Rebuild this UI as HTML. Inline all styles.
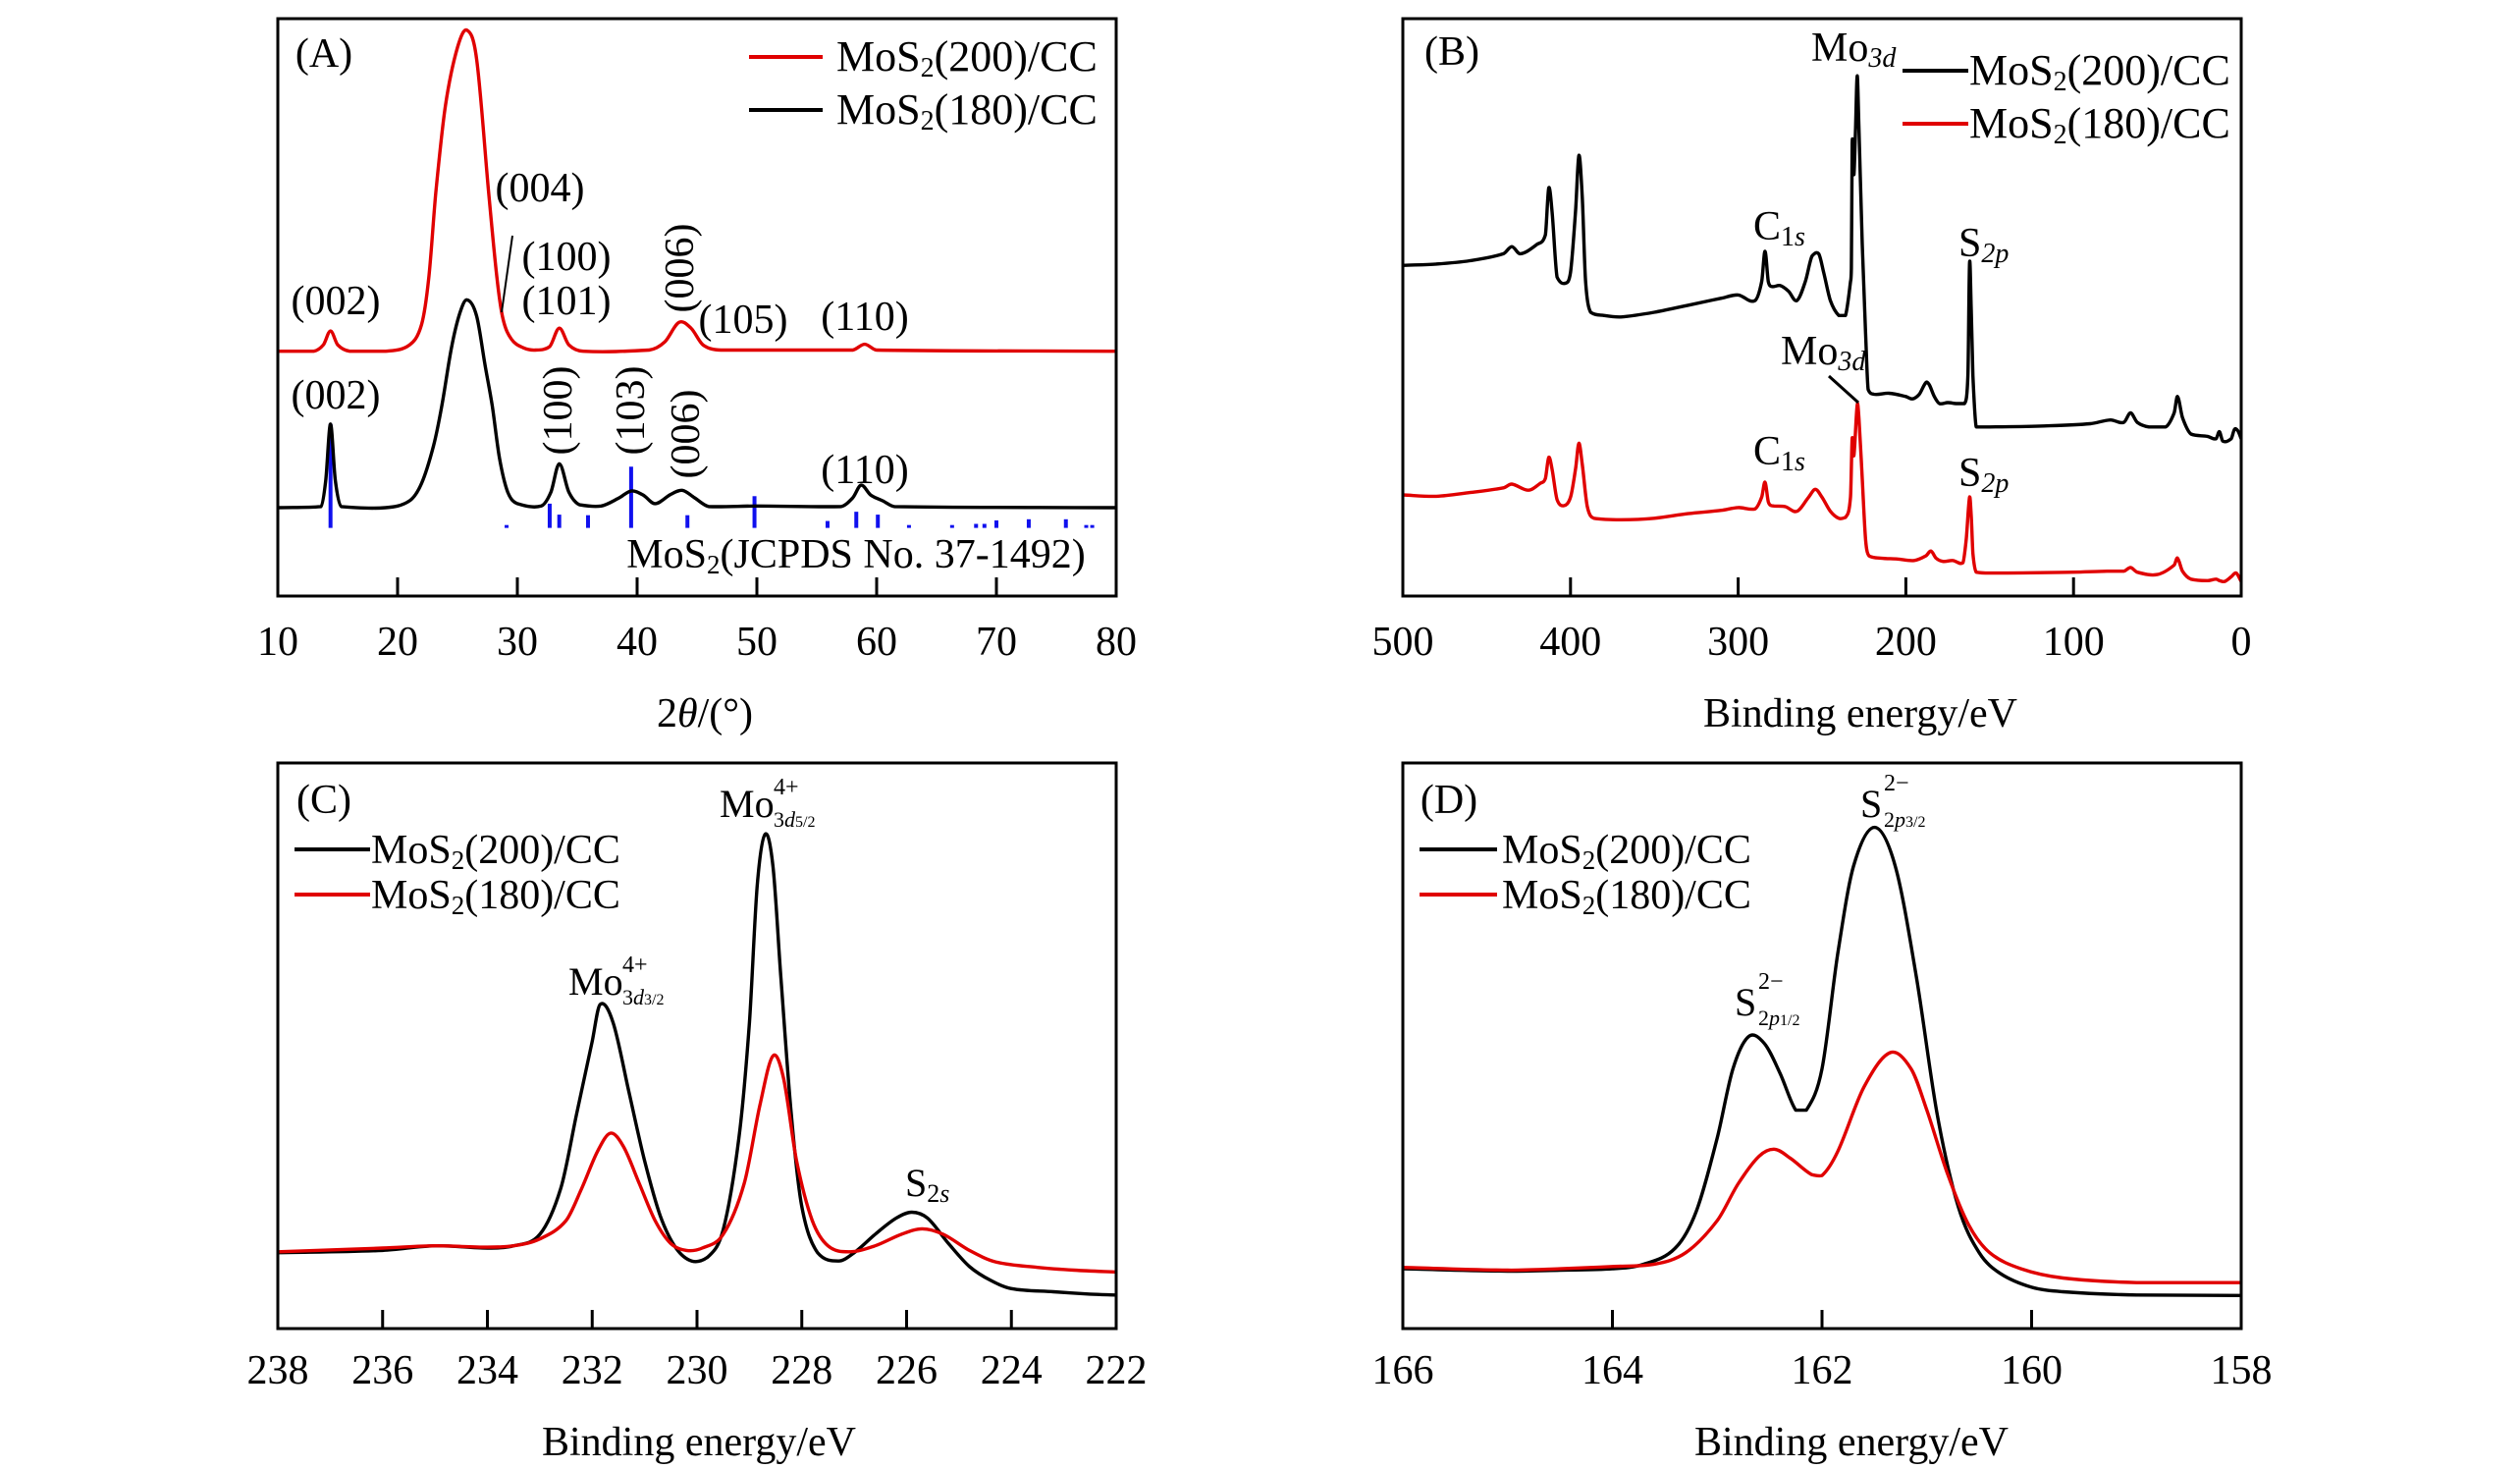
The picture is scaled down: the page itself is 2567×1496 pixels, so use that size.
<!DOCTYPE html>
<html><head><meta charset="utf-8"><title>MoS2 XRD and XPS</title>
<style>
html,body{margin:0;padding:0;background:#fff;}
svg{display:block;}
text{font-family:"Liberation Serif",serif;fill:#000;}
</style></head>
<body>
<svg id="fig" width="2567" height="1496" viewBox="0 0 2567 1496" xmlns="http://www.w3.org/2000/svg">
<defs>
<clipPath id="clipA"><rect x="283" y="19" width="854" height="588"/></clipPath>
<clipPath id="clipB"><rect x="1429" y="19" width="854" height="588"/></clipPath>
<clipPath id="clipC"><rect x="283" y="777" width="854" height="576"/></clipPath>
<clipPath id="clipD"><rect x="1429" y="777" width="854" height="576"/></clipPath>
</defs>

<!-- Panel A -->
<g>
<g id="gA" clip-path="url(#clipA)"></g>
<rect x="283" y="19" width="854" height="588" fill="none" stroke="#000" stroke-width="3"/>
<g id="tA"></g>
<text x="330" y="68" font-size="42" text-anchor="middle">(A)</text>
<line x1="763" y1="58" x2="838" y2="58" stroke="#e00000" stroke-width="4"/>
<text x="852" y="72" font-size="44">MoS<tspan font-size="28" dy="6">2</tspan><tspan dy="-6">(200)/CC</tspan></text>
<line x1="763" y1="112" x2="838" y2="112" stroke="#000" stroke-width="4"/>
<text x="852" y="126" font-size="44">MoS<tspan font-size="28" dy="6">2</tspan><tspan dy="-6">(180)/CC</tspan></text>
<g font-size="42" text-anchor="middle">
<text x="342" y="320">(002)</text>
<text x="550" y="205">(004)</text>
<line x1="522" y1="240" x2="511" y2="318" stroke="#000" stroke-width="2"/>
<text x="577" y="275">(100)</text>
<text x="577" y="320">(101)</text>
<text transform="translate(706,273) rotate(-90)">(006)</text>
<text x="757" y="339">(105)</text>
<text x="881" y="336">(110)</text>
<text x="342" y="416">(002)</text>
<text transform="translate(582,418) rotate(-90)">(100)</text>
<text transform="translate(656,418) rotate(-90)">(103)</text>
<text transform="translate(712,442) rotate(-90)">(006)</text>
<text x="881" y="492">(110)</text>
</g>
<text x="872" y="578" font-size="42" text-anchor="middle">MoS<tspan font-size="27" dy="6">2</tspan><tspan dy="-6">(JCPDS No. 37-1492)</tspan></text>
<text x="718" y="740" font-size="42" text-anchor="middle">2<tspan font-style="italic">θ</tspan>/(°)</text>
</g>

<!-- Panel B -->
<g>
<g id="gB" clip-path="url(#clipB)"></g>
<rect x="1429" y="19" width="854" height="588" fill="none" stroke="#000" stroke-width="3"/>
<g id="tB"></g>
<text x="1479" y="66" font-size="42" text-anchor="middle">(B)</text>
<line x1="1938" y1="72" x2="2005" y2="72" stroke="#000" stroke-width="4"/>
<text x="2006" y="86" font-size="44">MoS<tspan font-size="28" dy="6">2</tspan><tspan dy="-6">(200)/CC</tspan></text>
<line x1="1938" y1="126" x2="2005" y2="126" stroke="#e00000" stroke-width="4"/>
<text x="2006" y="140" font-size="44">MoS<tspan font-size="28" dy="6">2</tspan><tspan dy="-6">(180)/CC</tspan></text>
<g font-size="42">
<text x="1845" y="62">Mo<tspan font-size="28" font-style="italic" dy="6">3d</tspan></text>
<text x="1786" y="244">C<tspan font-size="28" dy="6">1<tspan font-style="italic">s</tspan></tspan></text>
<text x="1995" y="261">S<tspan font-size="28" font-style="italic" dy="6">2p</tspan></text>
<text x="1814" y="371">Mo<tspan font-size="28" font-style="italic" dy="6">3d</tspan></text>
<line x1="1863" y1="383" x2="1893" y2="410" stroke="#000" stroke-width="3"/>
<text x="1786" y="473">C<tspan font-size="28" dy="6">1<tspan font-style="italic">s</tspan></tspan></text>
<text x="1995" y="495">S<tspan font-size="28" font-style="italic" dy="6">2p</tspan></text>
</g>
<text x="1895" y="740" font-size="42" text-anchor="middle">Binding energy/eV</text>
</g>

<!-- Panel C -->
<g>
<g id="gC" clip-path="url(#clipC)"></g>
<rect x="283" y="777" width="854" height="576" fill="none" stroke="#000" stroke-width="3"/>
<g id="tC"></g>
<text x="330" y="828" font-size="42" text-anchor="middle">(C)</text>
<line x1="300" y1="865" x2="377" y2="865" stroke="#000" stroke-width="4"/>
<text x="378" y="879" font-size="42">MoS<tspan font-size="27" dy="6">2</tspan><tspan dy="-6">(200)/CC</tspan></text>
<line x1="300" y1="911" x2="377" y2="911" stroke="#e00000" stroke-width="4"/>
<text x="378" y="925" font-size="42">MoS<tspan font-size="27" dy="6">2</tspan><tspan dy="-6">(180)/CC</tspan></text>
<g>
<text x="733" y="832" font-size="40">Mo</text>
<text x="788" y="809" font-size="24">4+</text>
<text x="788" y="842" font-size="22"><tspan>3</tspan><tspan font-style="italic">d</tspan><tspan font-size="16">5/2</tspan></text>
</g>
<g>
<text x="579" y="1013" font-size="40">Mo</text>
<text x="634" y="990" font-size="24">4+</text>
<text x="634" y="1023" font-size="22"><tspan>3</tspan><tspan font-style="italic">d</tspan><tspan font-size="16">3/2</tspan></text>
</g>
<text x="922" y="1218" font-size="40">S<tspan font-size="26" dy="6">2<tspan font-style="italic">s</tspan></tspan></text>
<text x="712" y="1482" font-size="42" text-anchor="middle">Binding energy/eV</text>
</g>

<!-- Panel D -->
<g>
<g id="gD" clip-path="url(#clipD)"></g>
<rect x="1429" y="777" width="854" height="576" fill="none" stroke="#000" stroke-width="3"/>
<g id="tD"></g>
<text x="1476" y="828" font-size="42" text-anchor="middle">(D)</text>
<line x1="1446" y1="865" x2="1525" y2="865" stroke="#000" stroke-width="4"/>
<text x="1530" y="879" font-size="42">MoS<tspan font-size="27" dy="6">2</tspan><tspan dy="-6">(200)/CC</tspan></text>
<line x1="1446" y1="911" x2="1525" y2="911" stroke="#e00000" stroke-width="4"/>
<text x="1530" y="925" font-size="42">MoS<tspan font-size="27" dy="6">2</tspan><tspan dy="-6">(180)/CC</tspan></text>
<g>
<text x="1895" y="832" font-size="40">S</text>
<text x="1919" y="805" font-size="24">2−</text>
<text x="1919" y="842" font-size="22"><tspan>2</tspan><tspan font-style="italic">p</tspan><tspan font-size="16">3/2</tspan></text>
</g>
<g>
<text x="1767" y="1034" font-size="40">S</text>
<text x="1791" y="1007" font-size="24">2−</text>
<text x="1791" y="1044" font-size="22"><tspan>2</tspan><tspan font-style="italic">p</tspan><tspan font-size="16">1/2</tspan></text>
</g>
<text x="1886" y="1482" font-size="42" text-anchor="middle">Binding energy/eV</text>
</g>
</svg>

<script>
// ---------- Panel A (XRD, 2θ in degrees, intensity a.u. 0..100) ----------
const aTicks = [10,20,30,40,50,60,70,80];
const aRedX = [10,13,13.8,14.4,15,16,19,21,22,22.6,23.2,24,25,25.8,26.6,27.6,28.3,28.8,29.5,30.5,31.5,32.7,33.5,34.3,35.5,41,42.3,43.5,44.5,45.5,47,55,58,59,60,80];
const aRedY = [42.4,42.4,43.5,45.9,43.5,42.4,42.4,43.5,47,55,70,85,95,98,93,70,55,48,44.5,43,42.6,43.2,46.4,43.5,42.4,42.6,44,47.4,46.4,43.5,42.6,42.6,42.6,43.6,42.6,42.4];
const aBlackX = [10,13.6,14.0,14.4,14.8,15.3,19,21,22,23,23.7,24.5,25.2,25.8,26.6,27.3,27.9,28.5,29.2,30,32,32.8,33.5,34.3,35.2,37,38.5,39.5,40.5,41.5,42.8,43.8,44.8,46,50,57,58,58.7,59.5,60.5,61.5,80];
const aBlackY = [15.3,15.5,20,29.8,20,15.5,15.3,16.5,19.5,26,33,43,49,51.3,48.5,40,33,24,18,16,15.6,18,22.9,18,15.8,15.6,17,18.2,17.5,16,17.6,18.3,17,15.5,15.6,15.5,17,19.2,17.5,16.5,15.5,15.3];
const aRefPos = [14.4,29.1,32.7,33.5,35.9,39.5,44.2,49.8,55.9,58.3,60.1,62.7,66.3,68.3,69,70,72.7,75.8,77.5,78];
const aRefTop = [29.8,12.3,16,14.1,14,22.4,14,17.3,13,14.6,14.1,12.3,12.3,12.5,12.5,13.1,13.3,13.3,12.3,12.3];
const aRefBase = 11.8;

// ---------- Panel B (XPS survey, binding energy eV, intensity a.u.) ----------
const bTicks = [500,400,300,200,100,0];
const bBlackX = [500,480,460,440,435,430,420,415,413,411,408,403,400,397,395,393,391,388,380,370,350,330,310,300,290,286,284,282,280,275,270,265,260,256,252,249,245,240,236,233,232.5,232,231,230,229,228,226,224,222.5,219,210,200,196,192,188,186,183,180,175,170,165,163,162,161,160,158,150,120,90,78,70,66,62,55,45,40,38,35,30,20,15,13,11,6,4,2,0];
const bBlackY = [706,709,716,731,746,731,751,771,871,821,681,668,691,821,941,851,671,606,599,596,606,621,636,643,631,671,736,671,661,663,651,631,671,726,731,691,631,599,599,671,700,966,900,1000,1111,1000,750,560,441,431,433,426,421,431,456,451,426,411,413,411,411,471,711,611,471,361,361,363,368,376,371,391,371,361,361,391,426,381,346,341,336,351,331,336,356,353,336];
const bRedX = [500,480,460,440,435,425,418,415,413,411,408,404,400,397,395,393,390,386,370,350,330,310,300,290,286,284,282,280,272,265,258,254,250,245,240,236,233,232,231,229,228,226,224,222,215,205,195,188,185,182,178,172,166,164,162,161,160,158,150,100,80,70,66,62,50,40,38,35,30,20,15,13,10,6,3,0];
const bRedY = [216,213,221,231,239,226,241,251,296,271,206,193,211,271,326,281,191,166,163,166,176,183,189,186,211,243,201,193,191,181,211,228,211,181,166,168,211,336,300,409,380,250,120,86,81,79,76,86,96,81,74,76,71,121,211,171,91,51,49,51,53,53,61,51,46,66,81,53,36,33,36,33,31,41,49,31];

// ---------- Panel C (Mo 3d) ----------
const cTicks = [238,236,234,232,230,228,226,224,222];
const cBlackX = [238,236,235,234,233.5,233,232.6,232.3,232,231.85,231.6,231.3,231,230.7,230.4,230.1,229.8,229.5,229.2,229,228.85,228.7,228.55,228.4,228.2,228,227.7,227.3,227,226.6,226.2,225.9,225.6,225.2,224.8,224.4,224,223.2,222.5,222];
const cBlackY = [165,170,180,175,180,205,305,465,625,705,665,515,365,245,175,147,155,215,415,665,965,1075,1005,765,465,265,165,147,165,205,240,253,240,185,135,105,87,80,75,73];
const cRedX = [238,236,235,234,233.5,233,232.5,232.2,231.9,231.65,231.4,231.1,230.8,230.5,230.2,229.9,229.5,229.1,228.8,228.55,228.35,228.1,227.8,227.5,227.1,226.6,226.1,225.7,225.3,224.8,224.3,223.5,222.8,222];
const cRedY = [167,175,180,177,180,195,235,305,385,425,395,315,235,185,170,175,205,315,485,593,545,365,235,180,167,180,205,217,205,170,145,133,127,123];

// ---------- Panel D (S 2p) ----------
const dTicks = [166,164,162,160,158];
const dBlackX = [166,165,164.5,164,163.7,163.4,163.2,163,162.85,162.7,162.55,162.4,162.25,162.15,162,161.85,161.7,161.5,161.3,161.1,160.9,160.7,160.5,160.3,160,159.7,159,158];
const dBlackY = [130,125,127,130,140,175,255,415,565,635,620,555,475,475,565,815,1005,1090,1005,765,465,265,165,120,90,80,73,72];
const dRedX = [166,165,164.5,164,163.6,163.3,163,162.8,162.6,162.45,162.3,162.1,162,161.85,161.6,161.35,161.15,161,160.8,160.6,160.4,160.1,159.7,159,158];
const dRedY = [133,127,130,135,140,165,235,315,375,390,370,335,333,385,525,600,565,475,335,225,165,130,110,100,100];

const NS = 'http://www.w3.org/2000/svg';
function scale(d0,d1,r0,r1){ return v => r0 + (v-d0)*(r1-r0)/(d1-d0); }

function drawLine(g, xs, ys, sx, sy, color, name){
  const P = xs.map((x,i)=>[sx(x), sy(ys[i])]);
  const n = P.length;
  // slopes (dy/dx) at each point, central differences; cubic Hermite with x-monotone controls
  const m = P.map((p,i) => {
    const a = P[Math.max(0,i-1)], b = P[Math.min(n-1,i+1)];
    return (b[1]-a[1])/((b[0]-a[0])||1);
  });
  let d = 'M' + P[0][0].toFixed(1) + ',' + P[0][1].toFixed(1);
  for (let i=0;i<n-1;i++){
    const p1 = P[i], p2 = P[i+1];
    const h = (p2[0]-p1[0])/3;
    const segSlope = (p2[1]-p1[1])/((p2[0]-p1[0])||1);
    let m1 = m[i], m2 = m[i+1];
    // limit to avoid overshoot
    const lim = Math.max(Math.abs(segSlope)*3, 0.0001);
    if (Math.abs(m1) > lim) m1 = Math.sign(m1)*lim;
    if (Math.abs(m2) > lim) m2 = Math.sign(m2)*lim;
    d += 'C' + (p1[0]+h).toFixed(1)+','+(p1[1]+m1*h).toFixed(1)+' '+(p2[0]-h).toFixed(1)+','+(p2[1]-m2*h).toFixed(1)+' '+p2[0].toFixed(1)+','+p2[1].toFixed(1);
  }
  const p = document.createElementNS(NS,'path');
  p.setAttribute('d', d);
  p.setAttribute('fill','none');
  p.setAttribute('stroke', color);
  p.setAttribute('stroke-width','3.4');
  p.setAttribute('stroke-linejoin','round');
  
  
  g.appendChild(p);
}

function drawTicks(g, ticks, sx, yBottom, yLabel, name){
  ticks.forEach(t => {
    const x = sx(t);
    const l = document.createElementNS(NS,'line');
    l.setAttribute('x1', x); l.setAttribute('x2', x);
    l.setAttribute('y1', yBottom); l.setAttribute('y2', yBottom-19);
    l.setAttribute('stroke','#000'); l.setAttribute('stroke-width','3');
    
    
    g.appendChild(l);
    const tx = document.createElementNS(NS,'text');
    tx.setAttribute('x', x); tx.setAttribute('y', yLabel);
    tx.setAttribute('font-size','42'); tx.setAttribute('text-anchor','middle');
    tx.textContent = String(t);
    
    
    g.appendChild(tx);
  });
}

// Panel A
(function(){
  const sx = scale(10,80,283,1137), sy = scale(0,100,607,19);
  const g = document.getElementById('gA');
  aRefPos.forEach((p,i) => {
    const r = document.createElementNS(NS,'line');
    r.setAttribute('x1', sx(p)); r.setAttribute('x2', sx(p));
    r.setAttribute('y1', sy(aRefBase)); r.setAttribute('y2', sy(aRefTop[i]));
    r.setAttribute('stroke','#1010ee'); r.setAttribute('stroke-width','4');
    
    
    g.appendChild(r);
  });
  drawLine(g, aRedX, aRedY, sx, sy, '#e00000', 'xrd-mos2-200-line');
  drawLine(g, aBlackX, aBlackY, sx, sy, '#000', 'xrd-mos2-180-line');
  drawTicks(document.getElementById('tA'), aTicks, sx, 607, 667, 'panel-a-x');
})();
// Panel B
(function(){
  const sx = scale(500,0,1429,2283), sy = scale(0,1233,607,19);
  const g = document.getElementById('gB');
  drawLine(g, bBlackX, bBlackY, sx, sy, '#000', 'survey-mos2-200-line');
  drawLine(g, bRedX, bRedY, sx, sy, '#e00000', 'survey-mos2-180-line');
  drawTicks(document.getElementById('tB'), bTicks, sx, 607, 667, 'panel-b-x');
})();
// Panel C
(function(){
  const sx = scale(238,222,283,1137), sy = scale(0,1230,1353,777);
  const g = document.getElementById('gC');
  drawLine(g, cBlackX, cBlackY, sx, sy, '#000', 'mo3d-mos2-200-line');
  drawLine(g, cRedX, cRedY, sx, sy, '#e00000', 'mo3d-mos2-180-line');
  drawTicks(document.getElementById('tC'), cTicks, sx, 1353, 1409, 'panel-c-x');
})();
// Panel D
(function(){
  const sx = scale(166,158,1429,2283), sy = scale(0,1230,1353,777);
  const g = document.getElementById('gD');
  drawLine(g, dBlackX, dBlackY, sx, sy, '#000', 's2p-mos2-200-line');
  drawLine(g, dRedX, dRedY, sx, sy, '#e00000', 's2p-mos2-180-line');
  drawTicks(document.getElementById('tD'), dTicks, sx, 1353, 1409, 'panel-d-x');
})();
</script>
</body></html>
